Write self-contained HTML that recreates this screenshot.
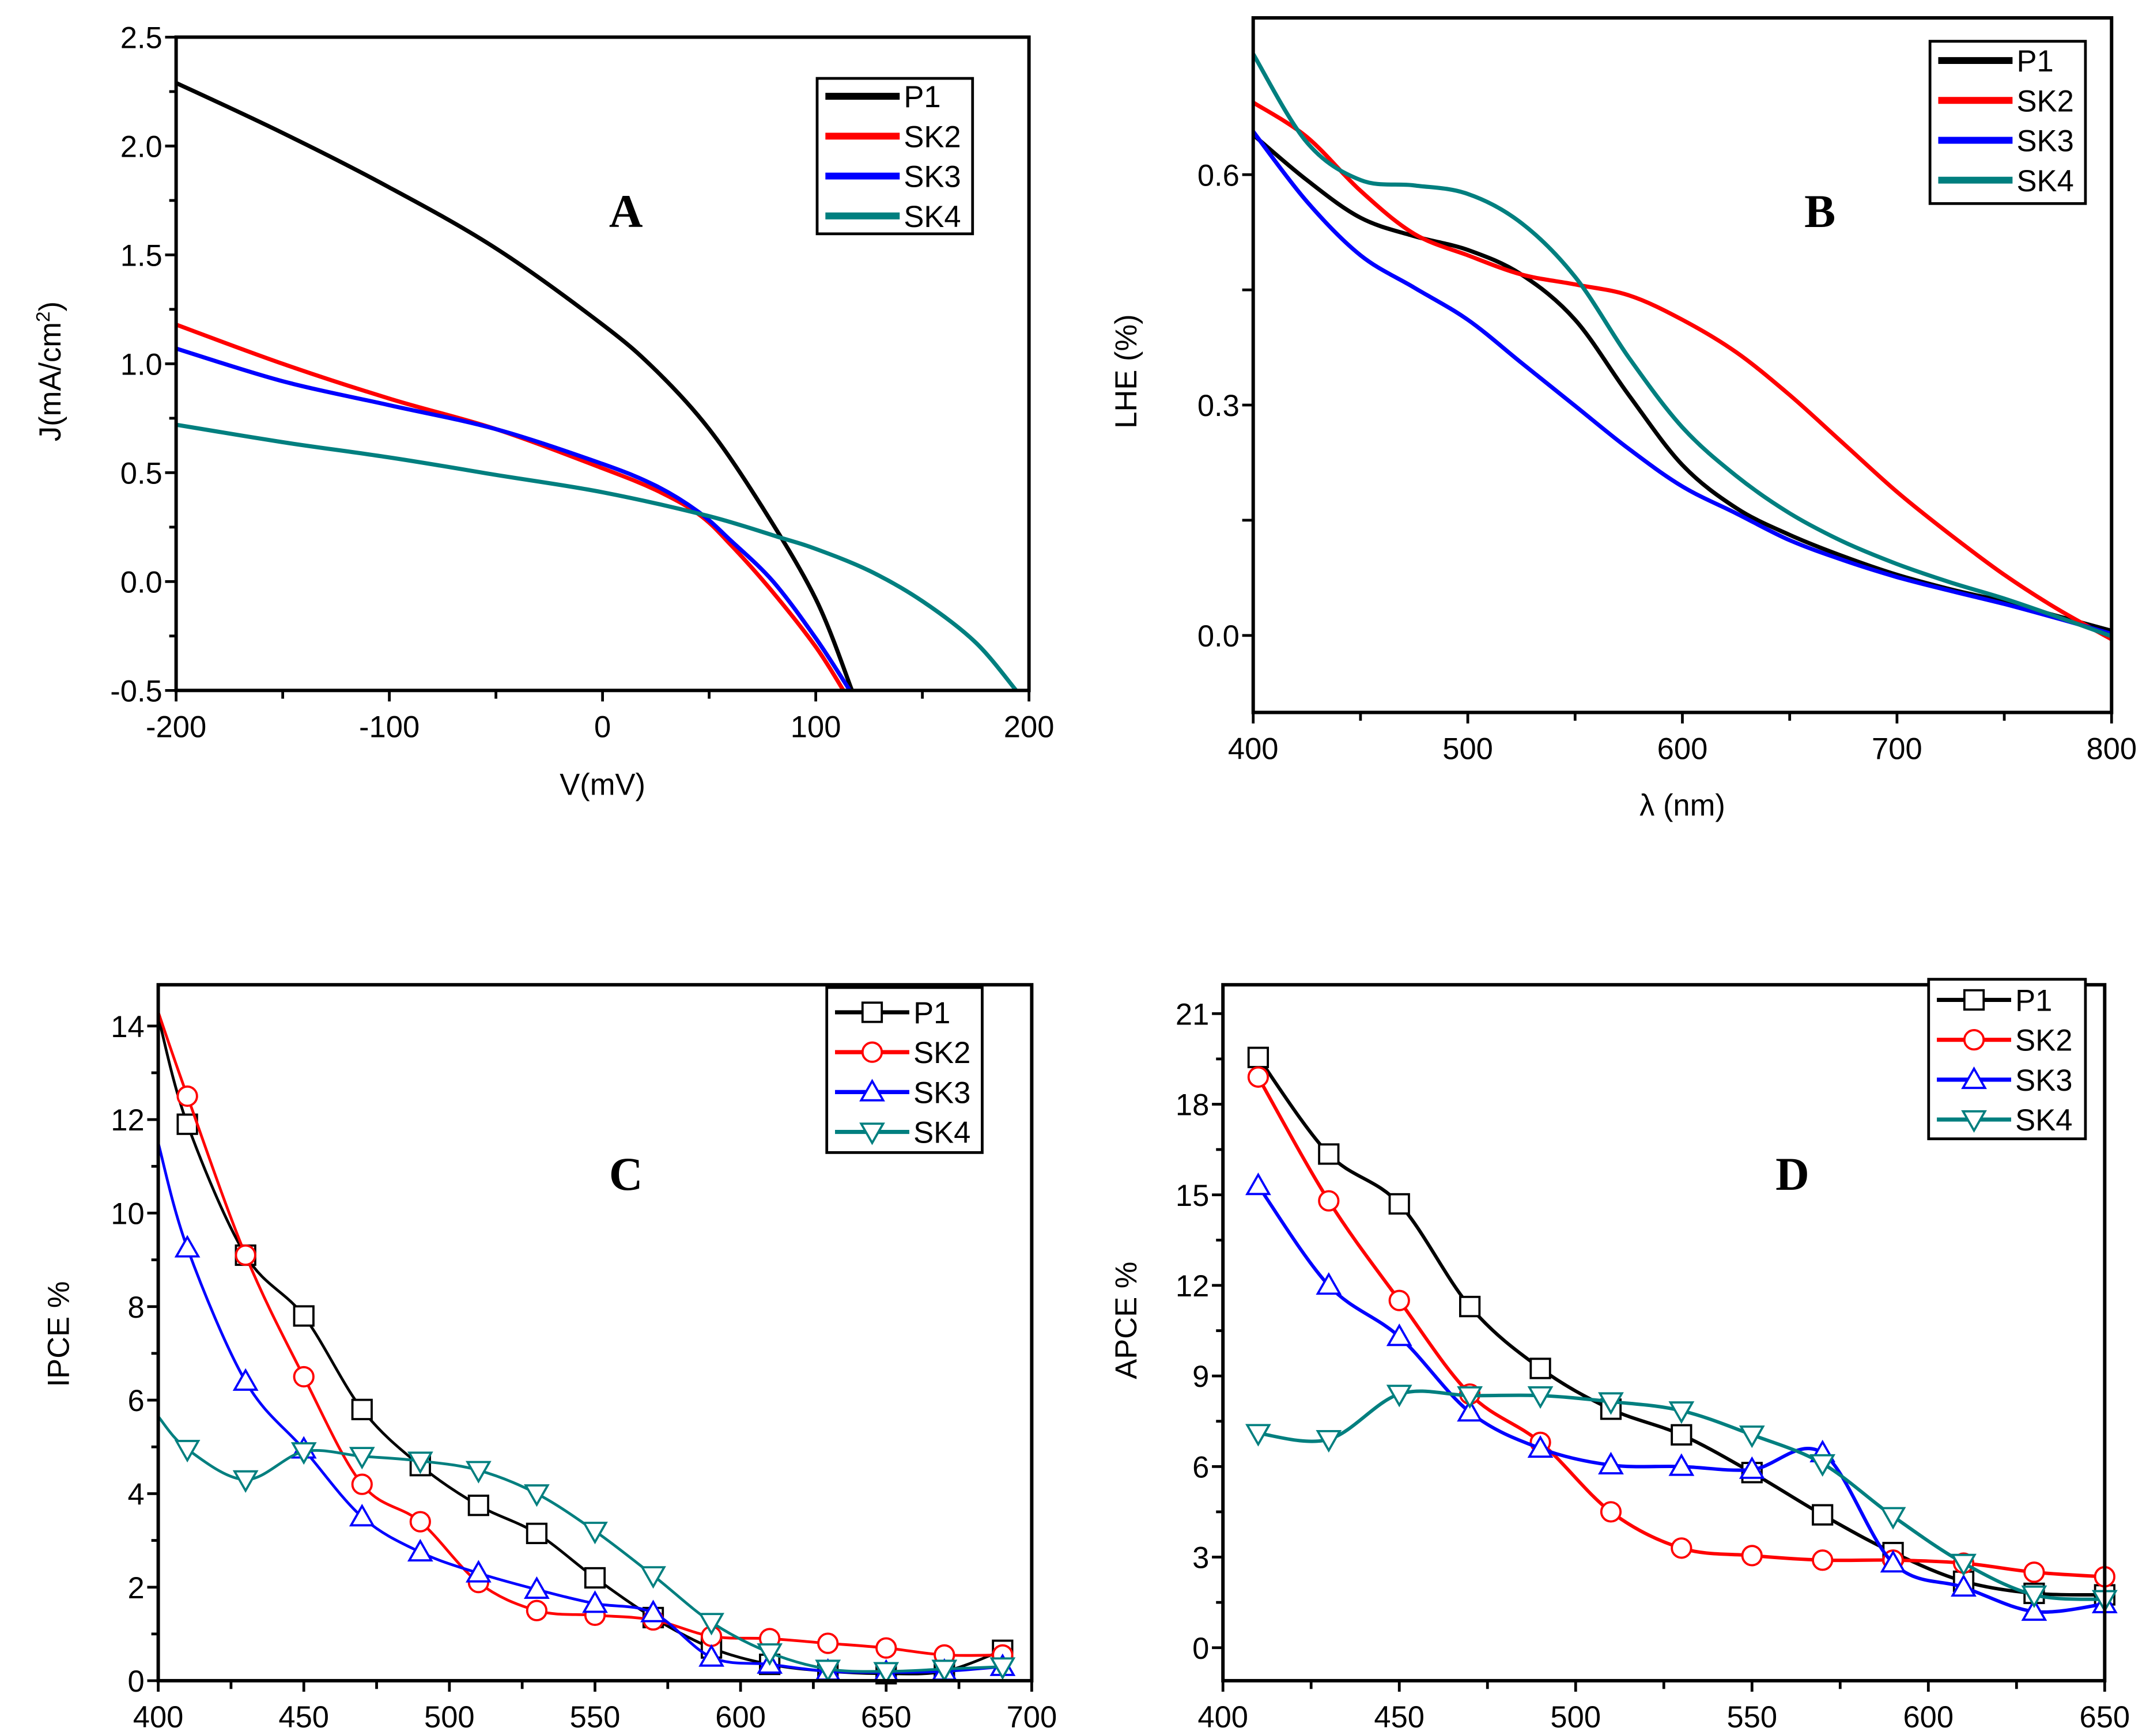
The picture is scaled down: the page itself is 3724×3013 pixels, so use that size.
<!DOCTYPE html>
<html><head><meta charset="utf-8"><style>
html,body{margin:0;padding:0;background:#fff}
svg{display:block}
text{font-family:"Liberation Sans",sans-serif}
</style></head><body>
<svg id="fig" width="3724" height="3013" viewBox="0 0 1560 1262.2"></svg>
<script>
// ---------- DATA ----------
const seriesNames=["P1","SK2","SK3","SK4"];
const colors=["#000000","#ff0000","#0000ff","#007f7f"];
// Panel A (J-V)
const aV_P1=[-200,-150,-100,-50,0,25,50,75,100,117];
const aJ_P1=[2.29,2.06,1.81,1.53,1.18,0.97,0.70,0.34,-0.08,-0.5];
const aV_SK2=[-200,-150,-100,-50,0,25,45,60,80,100,113];
const aJ_SK2=[1.18,1.0,0.84,0.70,0.52,0.42,0.31,0.17,-0.05,-0.3,-0.5];
const aV_SK3=[-200,-150,-100,-50,0,25,45,60,80,100,116];
const aJ_SK3=[1.07,0.92,0.81,0.70,0.54,0.44,0.32,0.19,0.0,-0.26,-0.5];
const aV_SK4=[-200,-150,-100,-50,0,50,84,100,125,150,175,194];
const aJ_SK4=[0.72,0.64,0.57,0.49,0.41,0.30,0.20,0.15,0.05,-0.09,-0.28,-0.5];
// Panel B (LHE)
const bL=[400,425,450,475,500,525,550,575,600,625,650,675,700,725,750,775,800];
const bP1=[0.652,0.593,0.544,0.52,0.502,0.47,0.411,0.313,0.222,0.166,0.131,0.103,0.079,0.06,0.044,0.025,0.006];
const bSK2=[0.694,0.649,0.579,0.523,0.495,0.47,0.457,0.443,0.411,0.369,0.313,0.25,0.187,0.131,0.079,0.034,-0.005];
const bSK3=[0.656,0.565,0.495,0.453,0.411,0.355,0.299,0.243,0.194,0.159,0.124,0.098,0.076,0.058,0.041,0.022,0.002];
const bSK4=[0.757,0.642,0.593,0.586,0.575,0.537,0.467,0.362,0.271,0.208,0.159,0.122,0.093,0.069,0.048,0.024,-0.001];
// Panel C (IPCE)
const cL=[410,430,450,470,490,510,530,550,570,590,610,630,650,670,690];
const cP1=[11.9,9.1,7.8,5.8,4.6,3.75,3.15,2.2,1.35,0.7,0.35,0.2,0.15,0.2,0.65];
const cSK2=[12.5,9.1,6.5,4.2,3.4,2.1,1.5,1.4,1.3,0.95,0.9,0.8,0.7,0.55,0.55];
const cSK3=[9.25,6.4,4.95,3.5,2.75,2.3,1.95,1.65,1.45,0.5,0.35,0.2,0.18,0.2,0.3];
const cSK4=[4.95,4.3,4.9,4.8,4.7,4.5,4.0,3.2,2.25,1.25,0.6,0.25,0.2,0.25,0.3];
const cStart=[14.2,14.3,11.5,5.65];
// Panel D (APCE)
const dL=[410,430,450,470,490,510,530,550,570,590,610,630,650];
const dP1=[19.55,16.35,14.7,11.3,9.25,7.9,7.05,5.8,4.4,3.15,2.2,1.8,1.75];
const dSK2=[18.9,14.8,11.5,8.4,6.8,4.5,3.3,3.05,2.9,2.9,2.8,2.5,2.35];
const dSK3=[15.3,12.0,10.3,7.8,6.6,6.05,6.0,5.9,6.45,2.8,2.0,1.2,1.45];
const dSK4=[7.1,6.9,8.4,8.35,8.35,8.15,7.85,7.05,6.1,4.35,2.8,1.75,1.6];
// Ticks
const aXT=[-200,-100,0,100,200], aYT=[-0.5,0.0,0.5,1.0,1.5,2.0,2.5];
const bXT=[400,500,600,700,800], bYT=[0.0,0.15,0.3,0.45,0.6];
const bYL=['0.0','','0.3','','0.6'];
const cXT=[400,450,500,550,600,650,700], cYT=[0,2,4,6,8,10,12,14];
const dXT=[400,450,500,550,600,650], dYT=[0,3,6,9,12,15,18,21];

const NS="http://www.w3.org/2000/svg";
const svg=document.getElementById('fig');
function el(tag,attrs,parent){const e=document.createElementNS(NS,tag);for(const k in attrs)e.setAttribute(k,attrs[k]);(parent||svg).appendChild(e);return e;}
function spline(pts){let d="M"+pts[0][0].toFixed(1)+","+pts[0][1].toFixed(1);
 for(let i=0;i<pts.length-1;i++){const p0=pts[i-1]||pts[i],p1=pts[i],p2=pts[i+1],p3=pts[i+2]||p2;
  const c1=[p1[0]+(p2[0]-p0[0])/6,p1[1]+(p2[1]-p0[1])/6],c2=[p2[0]-(p3[0]-p1[0])/6,p2[1]-(p3[1]-p1[1])/6];
  d+=" C"+c1[0].toFixed(1)+","+c1[1].toFixed(1)+" "+c2[0].toFixed(1)+","+c2[1].toFixed(1)+" "+p2[0].toFixed(1)+","+p2[1].toFixed(1);}
 return d;}
function marker(k,x,y,g){const r=7;let m;
 if(k===0)m=el('rect',{x:x-r,y:y-r,width:2*r,height:2*r,fill:'#fff',stroke:colors[k],'stroke-width':1.6},g);
 else if(k===1)m=el('circle',{cx:x,cy:y,r:r,fill:'#fff',stroke:colors[k],'stroke-width':1.6},g);
 else if(k===2)m=el('polygon',{points:`${x},${y-r-1} ${x-r-1},${y+r-1} ${x+r+1},${y+r-1}`,fill:'#fff',stroke:colors[k],'stroke-width':1.6},g);
 else m=el('polygon',{points:`${x},${y+r+1} ${x-r-1},${y-r+1} ${x+r+1},${y-r+1}`,fill:'#fff',stroke:colors[k],'stroke-width':1.6},g);
 return m;}
function panel(o){
 const g=el('g',{});
 
 
 const sx=v=>o.x0+(v-o.xmin)/(o.xmax-o.xmin)*(o.x1-o.x0);
 const sy=v=>o.ybot+(v-o.ymin)/(o.ymax-o.ymin)*(o.ytop-o.ybot);
 const clip=el('clipPath',{id:'clip'+o.id},g);el('rect',{x:o.x0,y:o.y0,width:o.x1-o.x0,height:o.y1-o.y0},clip);
 o.series.forEach((s,k)=>{
  const pts=s.x.map((v,i)=>[sx(v),sy(s.y[i])]);
  const p=el('path',{d:spline(pts),fill:'none',stroke:colors[k],'stroke-width':o.lw,'clip-path':'url(#clip'+o.id+')'},g);
  
  
  if(o.markers){s.x.forEach((v,i)=>{if(s.skip&&i===0)return;const m=marker(k,sx(v),sy(s.y[i]),g);
   
   });}
 });
 o.xticks.forEach((t,i)=>{const x=sx(t);el('line',{x1:x,y1:o.y1,x2:x,y2:o.y1+8,stroke:'#000','stroke-width':2},g);
  const tx=el('text',{x:x,y:o.y1+34,'text-anchor':'middle','font-size':22},g);tx.textContent=t;
  
  
  if(i<o.xticks.length-1){const xm=sx((t+o.xticks[i+1])/2);el('line',{x1:xm,y1:o.y1,x2:xm,y2:o.y1+6,stroke:'#000','stroke-width':2},g);}});
 o.yticks.forEach((t,i)=>{const y=sy(t);el('line',{x1:o.x0,y1:y,x2:o.x0-8,y2:y,stroke:'#000','stroke-width':2},g);
  const tx=el('text',{x:o.x0-10,y:y+8,'text-anchor':'end','font-size':22},g);tx.textContent=o.ylabels[i];
  
  
  if(o.minorY&&i<o.yticks.length-1){const ym=sy((t+o.yticks[i+1])/2);el('line',{x1:o.x0,y1:ym,x2:o.x0-5,y2:ym,stroke:'#000','stroke-width':2},g);}});
 const f=el('rect',{x:o.x0,y:o.y0,width:o.x1-o.x0,height:o.y1-o.y0,fill:'none',stroke:'#000','stroke-width':2.5},g);
 
 
 const L=o.leg;const lg=el('g',{},g);
 
 
 el('rect',{x:L.x,y:L.y,width:L.w,height:L.h,fill:'#fff',stroke:'#000','stroke-width':2},lg);
 seriesNames.forEach((n,k)=>{const y=L.y+L.first+k*L.step;
  el('line',{x1:L.x+6,y1:y,x2:L.x+60,y2:y,stroke:colors[k],'stroke-width':o.markers?3:5},lg);
  if(o.markers)marker(k,L.x+33,y,lg);
  const t=el('text',{x:L.x+63,y:y+8,'font-size':22},lg);t.textContent=n;
  
  });
 const lt=el('text',{x:o.letter[0],y:o.letter[1],'font-size':34,'font-weight':'bold','text-anchor':'middle',style:'font-family:"Liberation Serif",serif'},g);
 lt.textContent=o.id.toUpperCase();
 
 
 if(o.xtitle){const xt=el('text',{x:(o.x0+o.x1)/2,y:o.xtitleY,'text-anchor':'middle','font-size':22},g);xt.textContent=o.xtitle;
 
 }
 const yt=el('text',{x:o.ytitle[1],y:o.ytitle[2],'text-anchor':'middle','font-size':22,transform:'rotate(-90 '+o.ytitle[1]+' '+o.ytitle[2]+')'},g);
 yt.innerHTML=o.ytitle[0];
 
 
}

panel({id:'a',x0:128,x1:748,y0:27,y1:502,xmin:-200,xmax:200,ymin:-0.5,ymax:2.5,ybot:502,ytop:27,
 xticks:aXT,yticks:aYT,ylabels:aYT.map(v=>v.toFixed(1)),minorY:true,lw:3,markers:false,
 series:[{x:aV_P1,y:aJ_P1},{x:aV_SK2,y:aJ_SK2},{x:aV_SK3,y:aJ_SK3},{x:aV_SK4,y:aJ_SK4}],
 leg:{x:594,y:57,w:113,h:113,first:13,step:29},letter:[455,165],xtitle:'V(mV)',xtitleY:578,
 ytitle:['J(mA/cm<tspan font-size="14" dy="-8">2</tspan><tspan dy="8">)</tspan>',44,270]});
panel({id:'b',x0:911,x1:1535,y0:13,y1:518,xmin:400,xmax:800,ymin:0,ymax:0.6,ybot:462,ytop:127,
 xticks:bXT,yticks:bYT,ylabels:bYL,minorY:false,lw:3,markers:false,
 series:[{x:bL,y:bP1},{x:bL,y:bSK2},{x:bL,y:bSK3},{x:bL,y:bSK4}],
 leg:{x:1403,y:30,w:113,h:118,first:14,step:29},letter:[1323,165],xtitle:'λ (nm)',xtitleY:593,
 ytitle:['LHE (%)',826,270]});
panel({id:'c',x0:115,x1:750,y0:716,y1:1222,xmin:400,xmax:700,ymin:0,ymax:14,ybot:1222,ytop:746,
 xticks:cXT,yticks:cYT,ylabels:cYT.map(String),minorY:true,lw:2,markers:true,
 series:[{x:[400].concat(cL),y:[cStart[0]].concat(cP1),skip:true},{x:[400].concat(cL),y:[cStart[1]].concat(cSK2),skip:true},
  {x:[400].concat(cL),y:[cStart[2]].concat(cSK3),skip:true},{x:[400].concat(cL),y:[cStart[3]].concat(cSK4),skip:true}],
 leg:{x:601,y:718,w:113,h:120,first:18,step:29},letter:[455,865],xtitle:'',xtitleY:1290,
 ytitle:['IPCE %',50,970]});
panel({id:'d',x0:889,x1:1530,y0:716,y1:1222,xmin:400,xmax:650,ymin:0,ymax:21,ybot:1198,ytop:737,
 xticks:dXT,yticks:dYT,ylabels:dYT.map(String),minorY:true,lw:2.5,markers:true,
 series:[{x:dL,y:dP1},{x:dL,y:dSK2},{x:dL,y:dSK3},{x:dL,y:dSK4}],
 leg:{x:1402,y:712,w:114,h:116,first:15,step:29},letter:[1303,865],xtitle:'',xtitleY:1290,
 ytitle:['APCE %',826,960]});
</script>
</body></html>
